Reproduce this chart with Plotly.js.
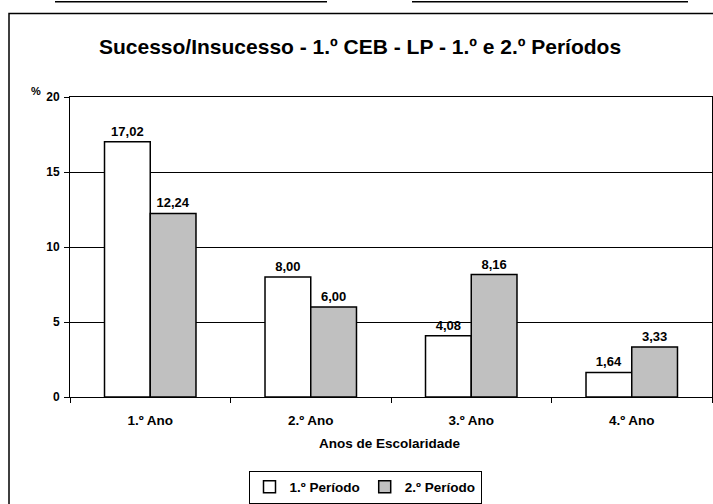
<!DOCTYPE html>
<html><head><meta charset="utf-8">
<script src="https://cdn.plot.ly/plotly-3.0.1.min.js"></script>
<style>html,body{margin:0;padding:0;background:#fff}#c{width:713px;height:504px}</style>
</head><body><div id="c"></div>
<script>
const categories = ['1.º Ano', '2.º Ano', '3.º Ano', '4.º Ano'];
const periodo1 = [17.02, 8.00, 4.08, 1.64];
const periodo2 = [12.24, 6.00, 8.16, 3.33];
const seriesNames = ['1.º Período', '2.º Período'];
const yTicks = [0, 5, 10, 15, 20];
const xTitle = 'Anos de Escolaridade';

const fmt = v => v.toFixed(2).replace('.', ',');
const F = 'Liberation Sans, Arial, sans-serif';

const traces = [
  {type:'bar', name:seriesNames[0], x:categories, y:periodo1, text:periodo1.map(fmt),
   textposition:'outside', cliponaxis:false,
   textfont:{family:F, size:13, color:'#000', weight:'bold'},
   marker:{color:'#ffffff', line:{color:'#000', width:1.5}}},
  {type:'bar', name:seriesNames[1], x:categories, y:periodo2, text:periodo2.map(fmt),
   textposition:'outside', cliponaxis:false,
   textfont:{family:F, size:13, color:'#000', weight:'bold'},
   marker:{color:'#c0c0c0', line:{color:'#000', width:1.5}}}
];

const layout = {
  width:713, height:504,
  margin:{l:70, r:1, t:97, b:105},
  paper_bgcolor:'#fff', plot_bgcolor:'#fff',
  font:{family:F, color:'#000'},
  title:{text:'<b>Sucesso/Insucesso - 1.º CEB - LP - 1.º e 2.º Períodos</b>',
         font:{family:F, size:21, color:'#000'},
         x:0.505, xanchor:'center', y:1-47/504, yanchor:'middle', yref:'container'},
  barmode:'group', bargap:0.43, bargroupgap:0,
  showlegend:true,
  legend:{orientation:'h', x:(365-70)/642, xanchor:'center', y:(399-473)/302, yanchor:'top',
          bordercolor:'#000', borderwidth:1, bgcolor:'#fff', itemwidth:30,
          font:{family:F, size:13.5, color:'#000', weight:'bold'}, traceorder:'normal'},
  xaxis:{type:'category', showline:true, linecolor:'#000', linewidth:1, mirror:true,
         ticks:'outside', tickson:'boundaries', ticklen:5, tickcolor:'#000', ticklabelstandoff:11,
         tickfont:{family:F, size:13.5, color:'#000', weight:'bold'},
         showgrid:false, zeroline:false},
  yaxis:{range:[0,20], tickvals:yTicks, ticktext:yTicks.map(String), showline:true,
         linecolor:'#000', linewidth:1, mirror:true, ticks:'outside', ticklen:5, tickcolor:'#000',
         ticklabelstandoff:2,
         tickfont:{family:F, size:12, color:'#000', weight:'bold'},
         showgrid:true, gridcolor:'#000', gridwidth:1, zeroline:false},
  annotations:[
    {text:'<b>%</b>', xref:'paper', yref:'paper', x:(36-70)/642, y:(399-91)/302,
     xanchor:'center', yanchor:'middle', showarrow:false, font:{family:F, size:11, color:'#000'}},
    {text:'<b>' + xTitle + '</b>', xref:'paper', yref:'paper', x:(390-70)/642, y:(399-446)/302,
     xanchor:'center', yanchor:'middle', showarrow:false, font:{family:F, size:13.5, color:'#000'}}
  ],
  shapes:[
    {type:'rect', xref:'paper', yref:'paper', x0:(9-70)/642, x1:(716-70)/642, y0:(399-520)/302, y1:(399-13)/302,
     line:{color:'#000', width:1.5}, fillcolor:'rgba(0,0,0,0)', layer:'below'},
    {type:'line', xref:'paper', yref:'paper', x0:(55-70)/642, x1:(327-70)/642, y0:(399-1)/302, y1:(399-1)/302,
     line:{color:'#000', width:1.5}},
    {type:'line', xref:'paper', yref:'paper', x0:(412-70)/642, x1:(688-70)/642, y0:(399-1)/302, y1:(399-1)/302,
     line:{color:'#000', width:1.5}}
  ]
};

Plotly.newPlot('c', traces, layout, {displayModeBar:false, staticPlot:true});
</script>
</body></html>
